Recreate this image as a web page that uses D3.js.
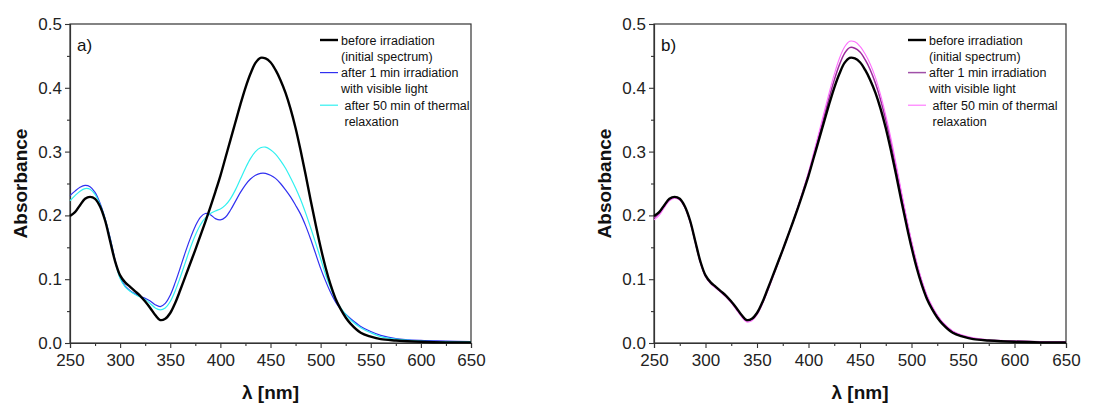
<!DOCTYPE html>
<html>
<head>
<meta charset="utf-8">
<script src="https://cdn.jsdelivr.net/npm/d3@7"></script>
<style>
  body { margin: 0; background: #fff; }
  svg { font-family: "Liberation Sans", Arial, sans-serif; }
</style>
</head>
<body>
<div id="chart"></div>
<script>
// wavelengths (nm) shared by all spectra
const wavelengths = [250,255,260,265,270,275,280,285,290,295,300,305,310,315,320,325,330,335,340,345,350,355,360,365,370,375,380,385,390,395,400,405,410,415,420,425,430,435,440,445,450,455,460,465,470,475,480,485,490,495,500,505,510,515,520,525,530,540,550,560,575,600,625,650];

// initial spectrum (same in both panels)
const initialSpectrum = [0.199,0.205,0.216,0.226,0.229,0.226,0.214,0.192,0.160,0.128,0.106,0.095,0.088,0.081,0.074,0.065,0.055,0.044,0.036,0.038,0.047,0.063,0.083,0.104,0.125,0.146,0.168,0.190,0.213,0.237,0.262,0.290,0.318,0.346,0.374,0.400,0.422,0.439,0.447,0.446,0.440,0.428,0.412,0.392,0.367,0.337,0.302,0.264,0.224,0.186,0.150,0.118,0.091,0.069,0.053,0.040,0.030,0.016,0.010,0.006,0.004,0.002,0.001,0.001];

// panel a
const a1minVisible = [0.231,0.238,0.244,0.247,0.245,0.236,0.219,0.195,0.165,0.130,0.103,0.089,0.082,0.077,0.073,0.070,0.066,0.060,0.057,0.062,0.075,0.095,0.118,0.142,0.164,0.183,0.197,0.203,0.201,0.195,0.193,0.197,0.208,0.222,0.236,0.248,0.257,0.263,0.266,0.266,0.263,0.258,0.250,0.240,0.229,0.216,0.202,0.184,0.163,0.140,0.117,0.097,0.079,0.064,0.053,0.045,0.038,0.026,0.018,0.012,0.007,0.004,0.003,0.002];
const a50minThermal = [0.223,0.231,0.238,0.242,0.241,0.233,0.217,0.194,0.163,0.128,0.101,0.088,0.081,0.076,0.072,0.068,0.062,0.055,0.052,0.055,0.065,0.082,0.103,0.126,0.149,0.169,0.185,0.196,0.203,0.207,0.210,0.216,0.226,0.240,0.257,0.274,0.289,0.300,0.306,0.307,0.303,0.296,0.286,0.274,0.259,0.243,0.225,0.204,0.181,0.157,0.132,0.107,0.086,0.068,0.055,0.045,0.036,0.024,0.016,0.010,0.006,0.003,0.002,0.002];

// panel b
const b1minVisible = [0.196,0.203,0.214,0.225,0.228,0.225,0.213,0.191,0.159,0.127,0.105,0.094,0.087,0.080,0.073,0.064,0.054,0.043,0.035,0.037,0.046,0.062,0.082,0.103,0.124,0.146,0.168,0.190,0.214,0.239,0.265,0.294,0.324,0.354,0.384,0.412,0.436,0.454,0.463,0.462,0.456,0.444,0.428,0.407,0.381,0.350,0.314,0.275,0.234,0.194,0.157,0.124,0.096,0.073,0.056,0.043,0.032,0.018,0.011,0.007,0.004,0.003,0.002,0.002];
const b50minThermal = [0.193,0.200,0.212,0.223,0.227,0.224,0.212,0.190,0.158,0.126,0.104,0.093,0.086,0.079,0.072,0.063,0.052,0.041,0.033,0.035,0.044,0.060,0.080,0.101,0.123,0.145,0.168,0.191,0.215,0.241,0.268,0.298,0.329,0.361,0.392,0.421,0.446,0.464,0.473,0.472,0.465,0.453,0.437,0.416,0.389,0.357,0.321,0.281,0.239,0.198,0.160,0.127,0.098,0.075,0.058,0.044,0.033,0.019,0.012,0.008,0.005,0.003,0.002,0.002];

const legendLabels = [
    ["before irradiation", "(initial spectrum)"],
    ["after 1 min irradiation", "with visible light"],
    [" after 50 min of thermal", " relaxation"]
];
const xTicks = [250, 300, 350, 400, 450, 500, 550, 600, 650];
const yTicks = [0.0, 0.1, 0.2, 0.3, 0.4, 0.5];

const width = 1105, height = 404;

const svg = d3.select("#chart")
    .append("svg")
    .attr("width", width)
    .attr("height", height);

function drawPanel(opts) {
    const { left, right, top, bottom, series, tag } = opts;

    const x = d3.scaleLinear().domain([250, 650]).range([left, right]);
    const y = d3.scaleLinear().domain([0, 0.5]).range([bottom, top]);

    const g = svg.append("g");

    // frame (top and right sides without ticks)
    g.append("rect")
        .attr("x", left).attr("y", top)
        .attr("width", right - left).attr("height", bottom - top)
        .attr("fill", "none")
        .attr("stroke", "#333")
        .attr("stroke-width", 1.2);

    // minor ticks
    g.append("g")
        .attr("transform", `translate(0,${bottom})`)
        .call(d3.axisBottom(x).tickValues(d3.range(275, 650, 50)).tickSize(3).tickFormat(""))
        .call(s => s.select(".domain").remove());
    g.append("g")
        .attr("transform", `translate(${left},0)`)
        .call(d3.axisLeft(y).tickValues([0.05, 0.15, 0.25, 0.35, 0.45]).tickSize(3).tickFormat(""))
        .call(s => s.select(".domain").remove());

    // major ticks + labels
    const xAxis = g.append("g")
        .attr("transform", `translate(0,${bottom})`)
        .call(d3.axisBottom(x).tickValues(xTicks).tickSize(5).tickPadding(6).tickFormat(d3.format("d")));
    const yAxis = g.append("g")
        .attr("transform", `translate(${left},0)`)
        .call(d3.axisLeft(y).tickValues(yTicks).tickSize(5).tickPadding(3).tickFormat(d3.format(".1f")));

    [xAxis, yAxis].forEach(ax => {
        ax.select(".domain").attr("stroke", "#333").attr("stroke-width", 1.2);
        ax.selectAll("text").attr("font-size", 17).attr("fill", "#222");
    });
    g.selectAll(".tick line").attr("stroke", "#333").attr("stroke-width", 1.1);

    // curves
    const line = d3.line()
        .x((d, i) => x(wavelengths[i]))
        .y(d => y(d))
        .curve(d3.curveCatmullRom);

    // coloured spectra first, black initial spectrum on top
    series.forEach(s => {
        g.append("path")
            .datum(s.values)
            .attr("fill", "none")
            .attr("stroke", s.color)
            .attr("stroke-width", s.width)
            .attr("d", line);
    });

    // axis titles
    g.append("text")
        .attr("transform", `translate(${left - 43},${(top + bottom) / 2}) rotate(-90)`)
        .attr("text-anchor", "middle")
        .attr("font-size", 19)
        .attr("font-weight", "bold")
        .attr("fill", "#111")
        .text("Absorbance");

    g.append("text")
        .attr("x", (left + right) / 2)
        .attr("y", 399)
        .attr("text-anchor", "middle")
        .attr("font-size", 19)
        .attr("font-weight", "bold")
        .attr("fill", "#111")
        .text("λ [nm]");

    // panel tag
    g.append("text")
        .attr("x", left + 7)
        .attr("y", top + 27)
        .attr("font-size", 17)
        .attr("fill", "#111")
        .text(tag);

    // legend
    const lx = opts.legendX;
    const legendOrder = [series[series.length - 1], series[0], series[1]];
    legendOrder.forEach((s, i) => {
        const rowY = 40 + i * 32.6;
        g.append("line")
            .attr("x1", lx).attr("x2", lx + 18)
            .attr("y1", rowY).attr("y2", rowY)
            .attr("stroke", s.legendColor || s.color)
            .attr("stroke-width", s.width);
        legendLabels[i].forEach((t, j) => {
            g.append("text")
                .attr("x", lx + 21)
                .attr("y", rowY + 4.5 + j * 16.3)
                .attr("font-size", 12.5)
                .attr("fill", "#111")
                .style("white-space", "pre")
                .text(t);
        });
    });
}

drawPanel({
    left: 70, right: 471, top: 24, bottom: 343, tag: "a)", legendX: 320,
    series: [
        { values: a1minVisible, color: "#3030f0", width: 1.2 },
        { values: a50minThermal, color: "#30f0f0", width: 1.2 },
        { values: initialSpectrum, color: "#000", width: 2.4 }
    ]
});

drawPanel({
    left: 654, right: 1066, top: 24, bottom: 343, tag: "b)", legendX: 908,
    series: [
        { values: b1minVisible, color: "#9a2a9a", legendColor: "#a050a8", width: 1.5 },
        { values: b50minThermal, color: "#ff70ff", width: 1.1 },
        { values: initialSpectrum, color: "#000", width: 2.4 }
    ]
});
</script>
</body>
</html>
